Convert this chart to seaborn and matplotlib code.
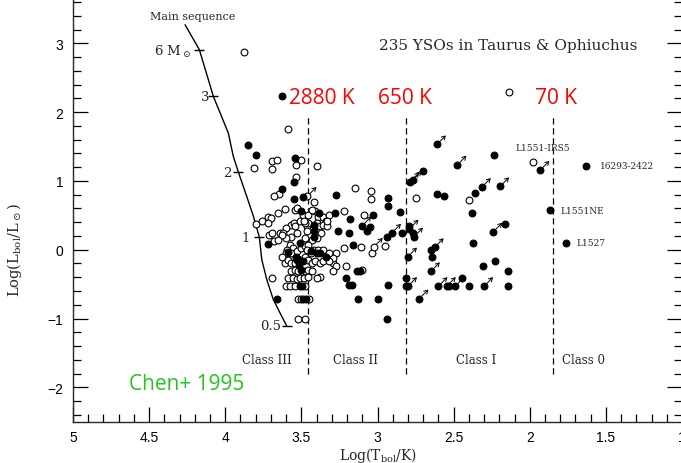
import matplotlib
matplotlib.use("Agg")
import matplotlib.pyplot as plt
from matplotlib.ticker import MultipleLocator
from matplotlib.transforms import ScaledTranslation
import seaborn as sns
import pandas as pd

# ---------------- data (log Tbol [K], log Lbol [Lsun]) ----------------
open_pts = [
    (3.88, 2.87), (2.135, 2.29), (3.585, 1.76), (3.50, 1.31), (3.535, 1.23), (3.81, 1.19),
    (3.69, 1.29), (3.66, 1.30), (3.69, 1.17), (3.40, 1.21), (3.535, 1.06), (3.645, 0.81),
    (3.68, 0.775), (3.61, 0.59), (3.655, 0.53), (3.42, 0.70), (3.54, 0.58), (3.41, 0.56),
    (3.22, 0.56), (3.39, 0.48), (3.355, 0.48), (3.32, 0.51), (3.34, 0.41), (3.72, 0.48),
    (3.70, 0.46), (3.53, 0.61), (3.15, 0.90), (3.04, 0.85), (3.04, 0.73), (2.75, 0.75),
    (3.09, 0.51), (2.95, 0.06), (3.035, -0.05), (3.11, 0.04), (3.22, 0.03), (3.21, -0.23),
    (3.10, -0.30), (3.38, -0.40), (2.40, 0.72), (1.98, 1.28), (3.29, -0.19), (3.27, -0.23),
    (3.29, -0.31), (3.27, -0.05), (3.29, -0.12),
    (3.80, 0.38), (3.76, 0.41), (3.72, 0.39), (3.57, 0.36), (3.55, 0.39), (3.54, 0.34),
    (3.60, 0.32), (3.64, 0.25), (3.62, 0.24), (3.53, 0.24), (3.57, 0.19), (3.60, 0.17),
    (3.63, 0.22), (3.71, 0.22), (3.695, 0.25), (3.68, 0.12), (3.655, 0.145), (3.465, 0.34),
    (3.455, 0.39), (3.40, 0.39), (3.38, 0.34), (3.355, 0.36), (3.33, 0.34), (3.33, 0.41),
    (3.37, 0.24), (3.40, 0.17), (3.43, 0.145), (3.475, 0.39), (3.49, 0.51), (3.455, 0.51),
    (3.43, 0.58), (3.51, 0.41), (3.48, 0.41), (3.465, 0.27), (3.475, 0.17),
    (3.575, 0.07), (3.555, 0.025), (3.595, 0.0), (3.60, -0.05), (3.565, -0.05), (3.53, -0.025),
    (3.50, 0.025), (3.475, 0.05), (3.455, 0.075), (3.465, 0.0), (3.42, 0.0), (3.39, 0.0),
    (3.355, 0.0), (3.32, -0.05), (3.475, -0.10), (3.455, -0.145), (3.44, -0.05), (3.43, -0.19),
    (3.41, -0.17), (3.38, -0.19), (3.355, -0.17), (3.32, -0.17), (3.63, -0.10), (3.61, -0.19),
    (3.585, -0.145), (3.565, -0.19), (3.54, -0.19),
    (3.565, -0.315), (3.54, -0.29), (3.52, -0.315), (3.475, -0.315), (3.455, -0.29), (3.43, -0.315),
    (3.585, -0.41), (3.555, -0.41), (3.53, -0.43), (3.51, -0.41), (3.485, -0.41), (3.455, -0.39),
    (3.40, -0.41), (3.69, -0.41),
    (3.60, -0.53), (3.575, -0.53), (3.545, -0.53), (3.475, -0.53),
    (3.52, -0.71), (3.50, -0.71), (3.447, -0.71),
    (3.525, -1.0), (3.475, -1.0),
]
open_arrow_pts = [(3.46, 0.78), (3.025, 0.04)]

filled_pts = [
    (3.63, 2.23), (3.85, 1.52), (3.80, 1.37), (3.545, 1.34), (3.55, 0.98), (3.625, 0.88),
    (3.55, 0.73), (3.49, 0.77), (3.27, 0.80), (3.385, 0.53), (3.28, 0.53), (3.50, 0.56),
    (3.18, 0.45), (3.03, 0.51), (2.93, 0.75), (2.93, 0.64), (2.85, 0.55), (3.07, 0.27),
    (3.05, 0.33), (3.26, 0.27), (3.185, 0.25), (2.94, 0.185), (2.84, 0.24), (2.765, 0.25),
    (3.16, 0.07), (3.135, -0.305), (3.115, -0.305), (3.21, -0.41), (3.185, -0.52), (3.17, -0.52),
    (2.93, -0.52), (2.81, -0.41), (3.125, -0.71), (3.00, -0.71), (2.935, -1.01), (3.72, 0.08),
    (3.51, 0.10), (3.42, 0.27), (3.42, 0.19), (3.42, 0.36), (3.40, -0.05), (3.38, -0.05),
    (3.335, -0.10), (3.535, -0.10), (3.52, -0.135), (3.49, -0.17), (3.435, -0.025), (3.59, -0.035),
    (3.53, -0.145), (3.515, -0.22), (3.50, -0.29), (3.51, -0.53), (3.495, -0.53), (3.487, -0.71),
    (3.468, -0.71), (3.66, -0.71), (2.238, 1.37), (2.70, 1.15), (2.61, 0.81), (2.56, 0.775),
    (2.36, 0.82), (2.38, 0.53), (1.87, 0.57), (2.79, 0.34), (2.16, 0.38), (2.65, -0.01),
    (2.37, 0.10), (2.64, -0.105), (2.31, -0.23), (2.23, -0.17), (2.145, -0.315), (2.53, -0.53),
    (2.445, -0.41), (2.40, -0.53), (2.145, -0.53), (1.76, 0.10), (1.63, 1.22), (2.81, -0.53),
]
filled_arrow_pts = [
    (2.61, 1.53), (2.475, 1.235), (1.93, 1.16), (2.785, 0.99), (2.77, 1.01), (2.315, 0.91),
    (2.195, 0.92), (2.79, 0.305), (2.76, 0.19), (2.24, 0.26), (2.625, 0.035), (2.80, -0.10),
    (2.65, -0.315), (2.60, -0.53), (2.545, -0.53), (2.49, -0.53), (2.30, -0.53), (2.725, -0.71),
    (3.10, 0.35), (2.905, 0.245), (2.80, -0.53),
]

# main sequence track and mass marks
ms_logT = [4.264, 4.170, 4.078, 3.980, 3.947, 3.914, 3.859, 3.815, 3.776, 3.760, 3.727, 3.684, 3.640, 3.597]
ms_logL = [3.27, 2.907, 2.228, 1.696, 1.356, 1.129, 0.775, 0.484, 0.182, -0.145, -0.436, -0.727, -0.920, -1.105]
mass_logT = [4.170, 4.078, 3.914, 3.776, 3.597]
mass_logL = [2.907, 2.228, 1.129, 0.182, -1.105]
mass_labels = [r"6 M$_\odot$", "3", "2", "1", "0.5"]

# class boundaries (K) and labels
boundary_logT = [3.459, 2.813, 1.845]
boundary_labels = ["2880 K", "650 K", "70 K"]
boundary_label_logT = [3.581, 2.996, 1.965]
class_names = ["Class III", "Class II", "Class I", "Class 0"]
class_logT = [3.725, 3.144, 2.355, 1.645]

source_names = ["L1551-IRS5", "16293-2422", "L1551NE", "L1527"]
source_text_logT = [2.096, 1.537, 1.80, 1.695]
source_text_logL = [1.483, 1.221, 0.567, 0.102]

x_ticks = [5, 4.5, 4, 3.5, 3, 2.5, 2, 1.5, 1]
x_ticklabels = ["5", "4.5", "4", "3.5", "3", "2.5", "2", "1.5", "1"]
y_ticks = [-2, -1, 0, 1, 2, 3]
y_ticklabels = ["\u22122", "\u22121", "0", "1", "2", "3"]

# ---------------- style ----------------
sns.set_style("ticks")
plt.rcParams["font.family"] = ["DejaVu Serif"]
plt.rcParams["mathtext.fontset"] = "dejavuserif"
plt.rcParams["axes.linewidth"] = 1.0

fig = plt.figure(figsize=(6.81, 4.64), dpi=100)
ax = fig.add_axes([73 / 681, 41.3 / 464, 609 / 681, 447.2 / 464])

def to_df(pts):
    return pd.DataFrame(pts, columns=["logT", "logL"])

mk = dict(s=24, linewidth=0.8, zorder=3, legend=False)
sns.scatterplot(data=to_df(open_pts + open_arrow_pts), x="logT", y="logL", ax=ax,
                facecolor="white", edgecolor="black", **mk)
sns.scatterplot(data=to_df(filled_pts + filled_arrow_pts), x="logT", y="logL", ax=ax,
                facecolor="black", edgecolor="black", **mk)

# lower-limit arrows (up-right)
tail = ScaledTranslation(2.5 / 100, 2.5 / 100, fig.dpi_scale_trans)
head = ScaledTranslation(9 / 100, 9 / 100, fig.dpi_scale_trans)
for (x, y) in open_arrow_pts + filled_arrow_pts:
    ax.annotate("", xy=(x, y), xycoords=ax.transData + head,
                xytext=(x, y), textcoords=ax.transData + tail,
                arrowprops=dict(arrowstyle="->,head_length=0.25,head_width=0.15",
                                lw=0.7, color="black", shrinkA=0, shrinkB=0),
                zorder=4)

# main sequence
sns.lineplot(x=ms_logT, y=ms_logL, sort=False, estimator=None, color="black", lw=1.0, ax=ax)
ax.plot(mass_logT, mass_logL, ls="none", marker="_", ms=7, mew=1.0, color="black")
mass_offsets = [(-6, -1), (-3, 0), (-5, 0), (-7, 0), (-4, 0)]
for lx, ly, lab, off in zip(mass_logT, mass_logL, mass_labels, mass_offsets):
    ax.annotate(lab, xy=(lx, ly), xytext=off, textcoords="offset points",
                ha="right", va="center", fontsize=9.5)
ax.text(4.494, 3.40, "Main sequence", fontsize=8, ha="left", va="center")

# class boundaries
for bx in boundary_logT:
    ax.vlines(bx, -1.80, 1.93, colors="black", linestyles=(0, (5, 3)), lw=0.9)
for tx, blab in zip(boundary_label_logT, boundary_labels):
    ax.text(tx, 2.21, blab, color="red", fontsize=15, family="Open Sans",
            ha="left", va="center")

for cx, cname in zip(class_logT, class_names):
    ax.text(cx, -1.60, cname, fontsize=8.5, ha="center", va="center")

for sx, sy, sname in zip(source_text_logT, source_text_logL, source_names):
    ax.text(sx, sy, sname, fontsize=6.5, ha="left", va="center")

ax.text(2.99, 2.98, "235 YSOs in Taurus & Ophiuchus", fontsize=11, ha="left", va="center")
ax.text(4.632, -1.948, "Chen+ 1995", color="#1ec81e", fontsize=15, family="Open Sans",
        ha="left", va="center")

# axes
ax.set_xlim(5, 1)
ax.set_ylim(-2.5, 4.0)
ax.set_xticks(x_ticks, x_ticklabels)
ax.set_yticks(y_ticks, y_ticklabels)
ax.xaxis.set_minor_locator(MultipleLocator(0.1))
ax.yaxis.set_minor_locator(MultipleLocator(0.2))
ax.tick_params(which="both", direction="in", top=True, right=True, width=0.9, colors="black")
ax.tick_params(which="major", length=11, labelsize=10)
ax.tick_params(axis="x", which="major", pad=6)
ax.tick_params(axis="y", which="major", pad=7)
ax.tick_params(which="minor", length=5.5)
for lab in ax.get_xticklabels() + ax.get_yticklabels():
    lab.set_family("Liberation Sans")

ax.set_xlabel(r"Log(T$_{\rm bol}$/K)", fontsize=10)
ax.set_ylabel(r"Log(L$_{\rm bol}$/L$_\odot$)", fontsize=10.5)
ax.xaxis.set_label_coords(0.5008, -0.052)
ax.yaxis.set_label_coords(-0.08, 0.386)

fig.savefig("out.png", dpi=100)
